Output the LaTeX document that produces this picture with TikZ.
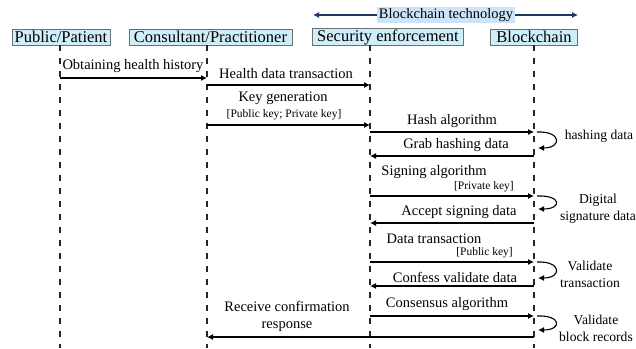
\documentclass[tikz,border=0pt]{standalone}
\usepackage{fontspec}
\setmainfont{Liberation Serif}
\usetikzlibrary{arrows.meta}
\definecolor{boxfill}{RGB}{206,238,250}
\definecolor{techfill}{RGB}{204,228,250}
\definecolor{navy}{RGB}{31,56,100}
\definecolor{boxline}{RGB}{110,110,110}
\tikzset{
  actor/.style={draw=boxline,fill=boxfill,line width=0.8pt,inner xsep=2pt,inner ysep=1pt,minimum height=16pt,font=\fontsize{16.5}{18}\selectfont},
  lifeline/.style={draw=black!85,line width=1.1pt,dash pattern=on 6pt off 7pt},
  msg/.style={draw=black,line width=1.1pt,-{Latex[length=6pt,width=6pt]}},
  lbl/.style={inner sep=0pt,font=\fontsize{14.5}{16}\selectfont},
  rlbl/.style={inner sep=0pt,font=\fontsize{13.6}{15}\selectfont},
  sml/.style={inner sep=0pt,font=\fontsize{11.5}{13}\selectfont},
}
\begin{document}
\begin{tikzpicture}[x=1pt,y=-1pt]
\useasboundingbox (0,0) rectangle (636,348);
% header boxes
\node[actor,minimum width=98pt] (pub) at (61,37) {Public/Patient};
\node[actor,minimum width=163pt] (con) at (210.5,37) {Consultant/Practitioner};
\node[actor,minimum width=151pt] (sec) at (388,37) {Security enforcement};
\node[actor,minimum width=87pt] (blk) at (534,37) {Blockchain};
% blockchain technology
\coordinate (tl) at (313,15);
\coordinate (tr) at (578,15);
\draw[navy,line width=1.1pt,{Latex[length=6pt,width=6pt]}-{Latex[length=6pt,width=6pt]}] (tl) -- (tr);
\node[lbl,fill=techfill,inner xsep=2pt,inner ysep=1pt] (tech) at (446,15) {Blockchain technology};
% lifelines
\coordinate (P0) at (60,45);  \coordinate (P1) at (60,348);
\coordinate (C0) at (207,45); \coordinate (C1) at (207,348);
\coordinate (S0) at (370,45); \coordinate (S1) at (370,348);
\coordinate (B0) at (534,45); \coordinate (B1) at (534,348);
\draw[lifeline] (P0) -- (P1);
\draw[lifeline] (C0) -- (C1);
\draw[lifeline] (S0) -- (S1);
\draw[lifeline] (B0) -- (B1);
% message endpoints
\coordinate (m1a) at (60,78);   \coordinate (m1b) at (207,78);
\coordinate (m2a) at (207,85);  \coordinate (m2b) at (370,85);
\coordinate (m3a) at (207,125); \coordinate (m3b) at (370,125);
\coordinate (m4a) at (370,132); \coordinate (m4b) at (534,132);
\coordinate (m5a) at (534,156); \coordinate (m5b) at (370,156);
\coordinate (m6a) at (370,196); \coordinate (m6b) at (534,196);
\coordinate (m7a) at (534,223); \coordinate (m7b) at (370,223);
\coordinate (m8a) at (370,262); \coordinate (m8b) at (534,262);
\coordinate (m9a) at (534,286); \coordinate (m9b) at (370,286);
\coordinate (m10a) at (370,316); \coordinate (m10b) at (534,316);
\coordinate (m11a) at (534,337); \coordinate (m11b) at (207,337);
\draw[msg] (m1a) -- (m1b);
\draw[msg] (m2a) -- (m2b);
\draw[msg] (m3a) -- (m3b);
\draw[msg] (m4a) -- (m4b);
\draw[msg] (m5a) -- (m5b);
\draw[msg] (m6a) -- (m6b);
\draw[msg] (m7a) -- (m7b);
\draw[msg] (m8a) -- (m8b);
\draw[msg] (m9a) -- (m9b);
\draw[msg] (m10a) -- (m10b);
\draw[msg] (m11a) -- (m11b);
% message labels
\node[lbl] (t1) at (133,66) {Obtaining health history};
\node[lbl] (t2) at (286,74) {Health data transaction};
\node[lbl] (t3) at (283,98) {Key generation};
\node[sml] (t3b) at (284,115) {[Public key; Private key]};
\node[lbl] (t4) at (452,121) {Hash algorithm};
\node[lbl] (t5) at (456,145) {Grab hashing data};
\node[lbl] (t6) at (434,172) {Signing algorithm};
\node[sml,anchor=east] (t6b) at (514,187) {[Private key]};
\node[lbl] (t7) at (459,212) {Accept signing data};
\node[lbl] (t8) at (434,239) {Data transaction};
\node[sml,anchor=east] (t8b) at (513,253) {[Public key]};
\node[lbl] (t9) at (455,277) {Confess validate data};
\node[lbl] (t10) at (447,304) {Consensus algorithm};
\node[lbl,align=center] (t11) at (287,316) {Receive confirmation\\[1pt]response};
% self loops
\coordinate (l1a) at (537,132); \coordinate (l1b) at (538,148);
\coordinate (l2a) at (537,196); \coordinate (l2b) at (538,209);
\coordinate (l3a) at (537,262); \coordinate (l3b) at (538,278);
\coordinate (l4a) at (537,316); \coordinate (l4b) at (538,330);
\draw[msg] (l1a) .. controls (562,131) and (562,148) .. (l1b);
\draw[msg] (l2a) .. controls (562,195) and (562,209) .. (l2b);
\draw[msg] (l3a) .. controls (562,261) and (562,278) .. (l3b);
\draw[msg] (l4a) .. controls (562,315) and (562,330) .. (l4b);
\node[rlbl] (r1) at (599,136) {hashing data};
\node[rlbl,align=center] (r2) at (598,208.5) {Digital\\[2pt]signature data};
\node[rlbl,align=center] (r3) at (590,274) {Validate\\[2pt]transaction};
\node[rlbl,align=center] (r4) at (596,328.5) {Validate\\[2pt]block records};
\end{tikzpicture}
\end{document}
